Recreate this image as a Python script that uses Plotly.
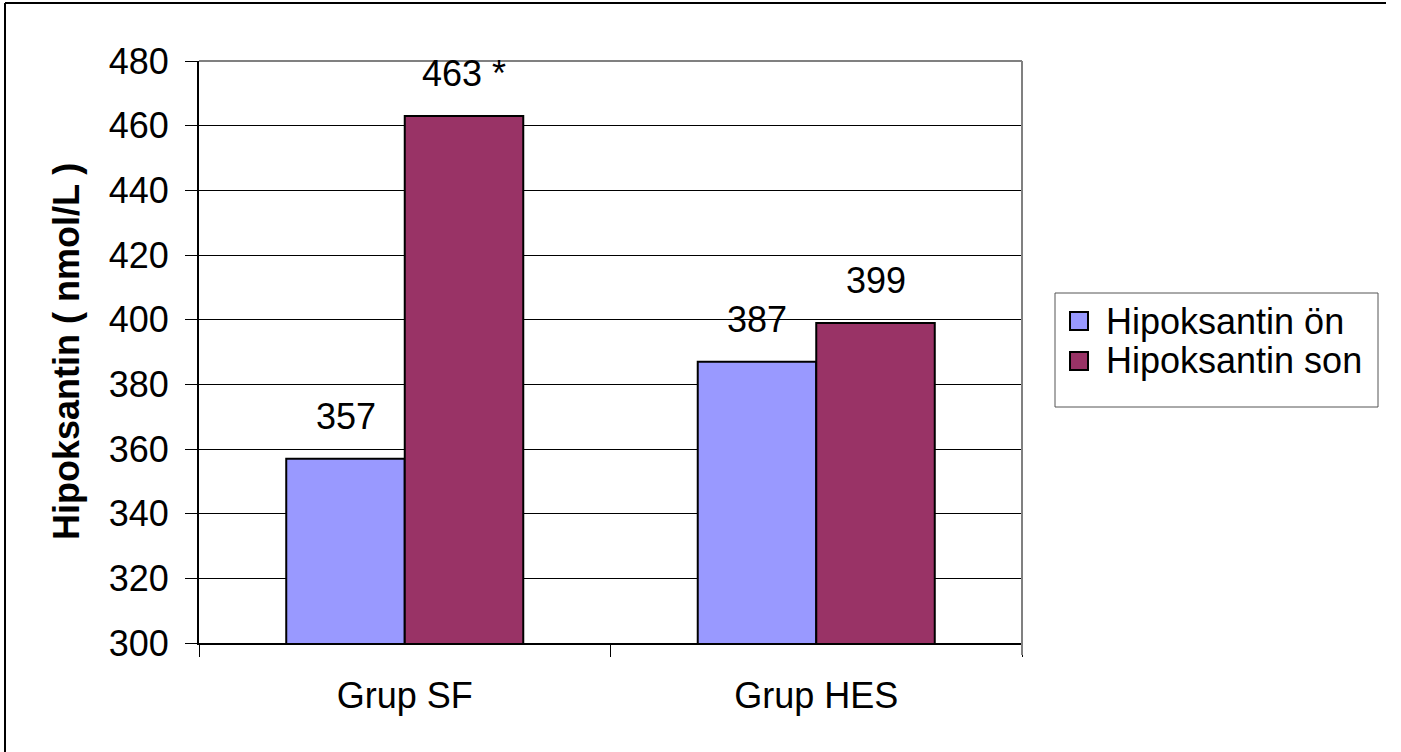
import plotly.graph_objects as go

# Data
groups = ["Grup SF", "Grup HES"]
series_names = ["Hipoksantin ön", "Hipoksantin son"]
values_on = [357, 387]
values_son = [463, 399]
label_on = ["357", "387"]
label_son = ["463 *", "399"]
y_title = "Hipoksantin ( nmol/L )"
y_ticks = [300, 320, 340, 360, 380, 400, 420, 440, 460, 480]

colors = ["#9999FF", "#993366"]
FONT = "Liberation Sans, Arial, sans-serif"

W, H = 1401, 752
L, R, T, B = 199, 1022, 61, 643  # plot area in pixels


def px(x):
    return (x - L) / (R - L)


def py(y):
    return (B - y) / (B - T)


fig = go.Figure()
for name, vals, col in [(series_names[0], values_on, colors[0]),
                        (series_names[1], values_son, colors[1])]:
    fig.add_trace(go.Bar(
        x=groups, y=vals, name=name,
        marker=dict(color=col, line=dict(color="black", width=2)),
        showlegend=False,
    ))

annotations = []
# value labels above the bars
for i, g in enumerate(groups):
    for vals, labels, shift in [(values_on, label_on, -0.5), (values_son, label_son, 0.5)]:
        annotations.append(dict(
            x=i, y=vals[i], xref="x", yref="y", text=labels[i],
            showarrow=False, xanchor="center", yanchor="bottom",
            xshift=shift * 118.5, yshift=20,
            font=dict(family=FONT, size=36, color="black"),
        ))

# y-axis title
annotations.append(dict(
    x=px(66), y=0.5, xref="paper", yref="paper", text="<b>" + y_title + "</b>",
    textangle=-90, showarrow=False, xanchor="center", yanchor="middle",
    font=dict(family=FONT, size=36, color="black"),
))

shapes = []
# plot-area border on top and right
shapes.append(dict(type="line", xref="paper", yref="paper", x0=0, x1=1, y0=1, y1=1,
                   line=dict(color="#808080", width=2)))
shapes.append(dict(type="line", xref="paper", yref="paper", x0=1, x1=1, y0=py(655), y1=1,
                   line=dict(color="#808080", width=2)))
# outer chart frame (top and left edges)
shapes.append(dict(type="line", xref="paper", yref="paper", x0=px(5), x1=px(1386),
                   y0=py(3), y1=py(3), line=dict(color="black", width=2)))
shapes.append(dict(type="line", xref="paper", yref="paper", x0=px(5), x1=px(5),
                   y0=py(3), y1=py(760), line=dict(color="black", width=2)))

# legend box
shapes.append(dict(type="rect", xref="paper", yref="paper", x0=px(1055), x1=px(1378),
                   y0=py(407), y1=py(293), line=dict(color="#555555", width=1),
                   fillcolor="white"))
for k, (name, col) in enumerate(zip(series_names, colors)):
    cy = 321 + 40 * k
    shapes.append(dict(type="rect", xref="paper", yref="paper",
                       x0=px(1070), x1=px(1088), y0=py(cy + 9), y1=py(cy - 9),
                       line=dict(color="black", width=2), fillcolor=col))
    annotations.append(dict(
        x=px(1104), y=py(cy), xref="paper", yref="paper", text=name,
        showarrow=False, xanchor="left", yanchor="middle",
        font=dict(family=FONT, size=36, color="black"),
    ))

fig.update_layout(
    width=W, height=H,
    margin=dict(l=L, r=W - R, t=T, b=H - B, pad=0),
    paper_bgcolor="white", plot_bgcolor="white",
    barmode="group", bargap=0.424, bargroupgap=0,
    font=dict(family=FONT, size=36, color="black"),
    annotations=annotations, shapes=shapes,
    showlegend=False,
)
fig.update_yaxes(
    range=[300, 480], tickvals=y_ticks, ticktext=[str(v) for v in y_ticks],
    showgrid=True, gridcolor="black", gridwidth=1,
    showline=True, linecolor="black", linewidth=2,
    ticks="outside", ticklen=12, tickcolor="black", tickwidth=1,
    ticklabelstandoff=9, zeroline=False,
    tickfont=dict(family=FONT, size=36, color="black"),
)
fig.update_xaxes(
    type="category", range=[-0.5, 1.5], tickson="boundaries",
    showgrid=False, showline=True, linecolor="black", linewidth=2,
    ticks="outside", ticklen=12, tickcolor="black", tickwidth=1,
    ticklabelstandoff=20,
    tickfont=dict(family=FONT, size=36, color="black"),
)

fig.write_html("out.html")
